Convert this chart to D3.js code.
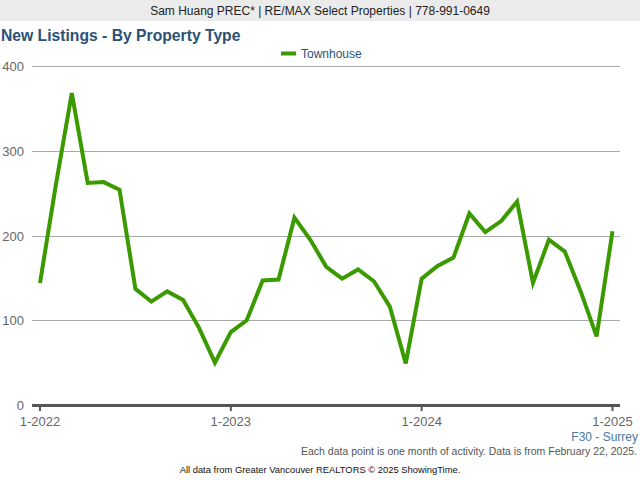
<!DOCTYPE html>
<html><head><meta charset="utf-8">
<script src="https://cdn.jsdelivr.net/npm/d3@7"></script>
<style>body{margin:0;background:#fff;}svg{display:block;font-family:Arial,"Liberation Sans",sans-serif;}</style>
</head><body><svg id="c" width="640" height="480"></svg>
<script>
const months = ["1-2022","2-2022","3-2022","4-2022","5-2022","6-2022","7-2022","8-2022","9-2022","10-2022","11-2022","12-2022",
"1-2023","2-2023","3-2023","4-2023","5-2023","6-2023","7-2023","8-2023","9-2023","10-2023","11-2023","12-2023",
"1-2024","2-2024","3-2024","4-2024","5-2024","6-2024","7-2024","8-2024","9-2024","10-2024","11-2024","12-2024","1-2025"];
const townhouse = [144,260,368,262,263,254,137,122,134,124,91,50,86,100,147,148,221,195,163,149,160,146,116,49,149,164,174,226,204,217,240,144,195,181,134,81,205];
const yTicks = [0,100,200,300,400];
const xTickLabels = ["1-2022","1-2023","1-2024","1-2025"];

(function(){
const svg = d3.select("#c");
const pLeft = 32, pRight = 620, pTop = 66, pBottom = 405;
const x = d3.scaleLinear().domain([0, months.length-1]).range([40, 612.5]);
const y = d3.scaleLinear().domain([0,400]).range([pBottom, pTop]);

// header
svg.append("rect").attr("x",0).attr("y",0).attr("width",640).attr("height",21).attr("fill","#ebebeb");
svg.append("text").attr("x",320).attr("y",15).attr("text-anchor","middle").attr("font-size",12).attr("fill","#222")
  .text("Sam Huang PREC* | RE/MAX Select Properties | 778-991-0649");
svg.append("text").attr("x",1).attr("y",41).attr("font-size",15.7).attr("font-weight","bold").attr("fill","#2c5176")
  .text("New Listings - By Property Type");

// legend
svg.append("line").attr("x1",281).attr("x2",296).attr("y1",53.5).attr("y2",53.5).attr("stroke","#3a9a00").attr("stroke-width",4);
svg.append("text").attr("x",301).attr("y",58).attr("font-size",12).attr("fill","#2c5176").text("Townhouse");

// grid
svg.append("g").selectAll("line").data(yTicks.filter(d=>d>0)).join("line")
  .attr("x1",pLeft).attr("x2",pRight).attr("y1",d=>Math.round(y(d))+0.5).attr("y2",d=>Math.round(y(d))+0.5)
  .attr("stroke","#aaa").attr("stroke-width",1);
svg.append("g").selectAll("text").data(yTicks).join("text")
  .attr("x",24).attr("y",d=>y(d)+5).attr("text-anchor","end").attr("font-size",13).attr("fill","#666").text(d=>d);

// x axis
svg.append("line").attr("x1",pLeft).attr("x2",pRight).attr("y1",pBottom+0.5).attr("y2",pBottom+0.5).attr("stroke","#555").attr("stroke-width",3);
const xt = xTickLabels.map(l=>months.indexOf(l));
svg.append("g").selectAll("line").data(xt).join("line")
  .attr("x1",d=>x(d)).attr("x2",d=>x(d)).attr("y1",pBottom).attr("y2",pBottom+6).attr("stroke","#555").attr("stroke-width",2);
svg.append("g").selectAll("text").data(xt).join("text")
  .attr("x",d=>x(d)).attr("y",pBottom+21).attr("text-anchor","middle").attr("font-size",13).attr("fill","#666").text(d=>months[d]);

// line
svg.append("path").datum(townhouse)
  .attr("d", d3.line().x((d,i)=>x(i)).y(d=>y(d)))
  .attr("fill","none").attr("stroke","#3a9a00").attr("stroke-width",4).attr("stroke-linejoin","miter");

// footer
svg.append("text").attr("x",638).attr("y",441).attr("text-anchor","end").attr("font-size",12).attr("fill","#4a78a8").text("F30 - Surrey");
svg.append("text").attr("x",637).attr("y",455).attr("text-anchor","end").attr("font-size",10.5).attr("fill","#555")
  .text("Each data point is one month of activity. Data is from February 22, 2025.");
svg.append("text").attr("x",320).attr("y",473).attr("text-anchor","middle").attr("font-size",9.4).attr("fill","#111")
  .text("All data from Greater Vancouver REALTORS © 2025 ShowingTime.");
})();
</script></body></html>
